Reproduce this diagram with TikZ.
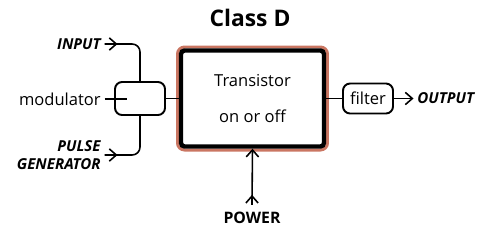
\documentclass[tikz,border=0pt]{standalone}
\usepackage{fontspec}
\setmainfont{Open Sans}
\usepackage{tikz}
\usetikzlibrary{fit, positioning, arrows.meta, calc, backgrounds}
\definecolor{cd-salmon}{RGB}{202,118,98}
\tikzset{
  cd@main/.style={
    draw=black, line width=2.5pt, rounded corners=2pt,
    minimum width=2.86cm, minimum height=1.92cm,
    align=center, font=\fontsize{9.4}{11}\selectfont
  },
  cd@block/.style={
    draw=black, line width=1.1pt, rounded corners=4pt,
    minimum width=1cm, align=center, font=\fontsize{9.4}{11}\selectfont
  },
  cd@lbl/.style={font=\fontsize{8.6}{10}\selectfont\bfseries\itshape, inner sep=2pt, align=right},
  cd@txt/.style={font=\fontsize{9.4}{11}\selectfont, inner sep=2pt},
  cd@line/.style={line width=0.9pt, black},
  cd@arr/.style={-{Straight Barb[length=4pt,width=7pt]}, line width=0.9pt, black},
}
\begin{document}
\begin{tikzpicture}[x=0.02cm, y=-0.02cm]
  \useasboundingbox (0,0) rectangle (500,227);
  \node[font=\fontsize{13}{15}\selectfont\bfseries] (title) at (250,18) {Class D};
  \node[cd@main] (tr) at (252.5,98.5) {Transistor\\[9.4pt]on or off};
  \node[cd@block, minimum height=0.66cm] (mod) at (140,98.5) {};
  \node[cd@block, minimum height=0.6cm] (filt) at (368,98.5) {filter};
  \node[cd@lbl, anchor=west] (out) at (413.5,98.5) {OUTPUT};
  \node[cd@lbl, anchor=east] (inp) at (104.5,44) {INPUT};
  \node[cd@lbl, anchor=east] (pulse) at (104.5,155) {PULSE\\GENERATOR};
  \node[cd@txt, anchor=east] (modlbl) at (104.5,99) {modulator};
  \node[font=\fontsize{9}{11}\selectfont\bfseries, inner sep=4pt] (pw) at (252,218) {POWER};
  \coordinate (modtick) at (127,99);
  \draw[cd@line] (mod) -- (tr);
  \draw[cd@line] (tr) -- (filt);
  \draw[cd@arr] (filt) -- (out);
  \draw[cd@line] (modlbl.east) -- (modtick);
  \draw[cd@line, rounded corners=4.5pt] (inp.east) -- (inp -| mod) -- (mod.north);
  \draw[cd@arr] (inp.east) -- ++(13,0);
  \draw[cd@line, rounded corners=4.5pt] (pulse.east) -- (pulse -| mod) -- (mod.south);
  \draw[cd@arr] (pulse.east) -- ++(13,0);
  \draw[cd@arr] (pw.north) -- (tr.south);
  \draw[cd@arr] (pw.north) -- ++(0,-10);
  \begin{scope}[on background layer]
    \node[draw=cd-salmon, line width=1.7pt, rounded corners=4pt, fit=(tr), inner sep=0.75pt] {};
  \end{scope}
\end{tikzpicture}
\end{document}
